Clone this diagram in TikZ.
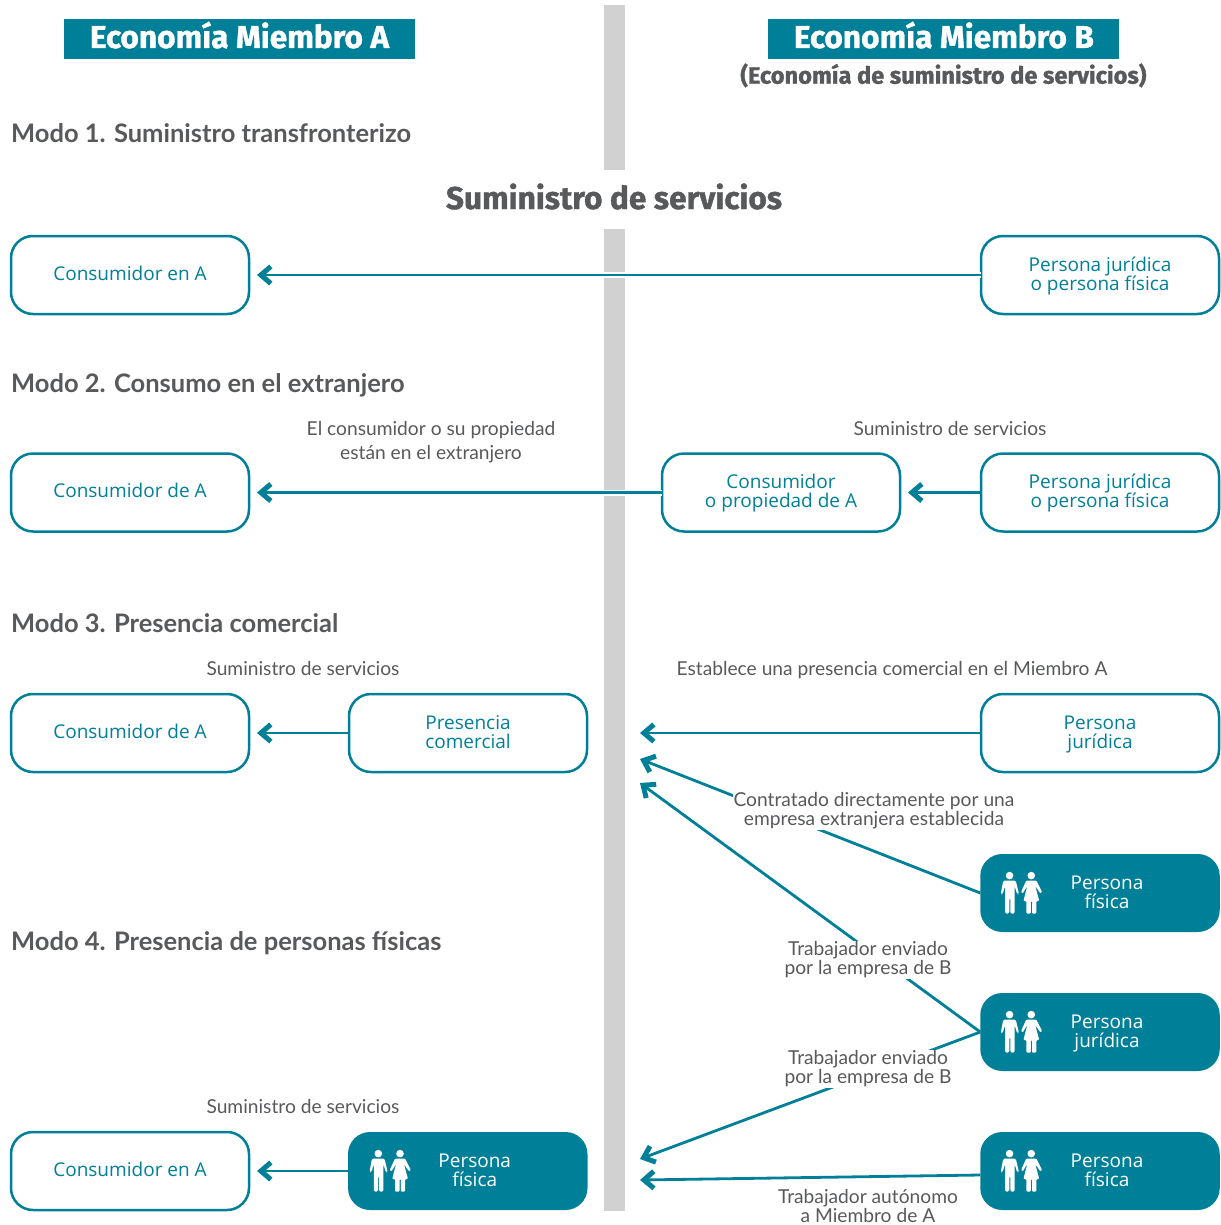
\documentclass[tikz,border=0pt]{standalone}
\usepackage{fontspec}
\usepackage{tikz}
\usetikzlibrary{arrows.meta, positioning}
\setmainfont{Lato}
\newfontfamily\boxfont{Open Sans}
\newfontfamily\headfont{Fira Sans}[BoldFeatures={FakeBold=1.2}]
\definecolor{teal}{RGB}{0,127,153}
\definecolor{ink}{RGB}{88,89,91}
\definecolor{bar}{RGB}{209,209,209}
\tikzset{
  outlinebox/.style={draw=teal, line width=2.5pt, rounded corners=22pt, fill=white, minimum width=238pt,
    minimum height=78pt, inner sep=0pt, outer sep=0pt, align=center, text=teal, text height=14pt, text depth=4pt,
    execute at begin node={\lineskiplimit=-20pt},
    font=\boxfont\fontsize{19}{19}\selectfont},
  twolines/.style={text height=40pt, text depth=10pt},
  solidbox/.style={outlinebox, draw=none, fill=teal, minimum width=239.5pt},
  solidname/.style={text=white, align=center, xshift=7pt, inner sep=0pt,
    execute at begin node={\lineskiplimit=-20pt}, text height=40pt, text depth=10pt,
    font=\boxfont\fontsize{19}{19}\selectfont},
  headbox/.style={fill=teal, text=white, minimum width=351pt, minimum height=40pt, inner sep=0pt, text height=23pt, text depth=5pt,
    font=\headfont\bfseries\fontsize{31.6}{32}\selectfont},
  modetitle/.style={anchor=base west, inner sep=0pt, text=ink, font=\bfseries\fontsize{25.5}{26}\selectfont},
  captext/.style={align=center, inner sep=0pt, text=ink, execute at begin node={\lineskiplimit=-20pt},
    font=\fontsize{19.2}{19}\selectfont},
  wipetext/.style={captext, fill=white, inner sep=1pt},
  linkline/.style={draw=teal, line width=2.8pt, -{Straight Barb[length=10pt, width=17pt, line width=5pt]}},
  halo/.style={preaction={draw=white, line width=6pt, -}},
  couple/.pic={
    \fill[white] (-10.7,3.6) circle (3.8) (11,3.6) circle (3.8);
    % man
    \fill[white, rounded corners=1.5pt] (-17,8.5) -- (-4.5,8.5) -- (-1.3,22) -- (-3,22.5) -- (-5.7,14) -- (-5.7,41.7)
      -- (-10,41.7) -- (-10,26) -- (-11,26) -- (-11,41.7) -- (-15.2,41.7) -- (-15.2,14) -- (-17.8,22.5) -- (-19.5,22) -- cycle;
    % woman
    \fill[white, rounded corners=1pt] (6,8.5) -- (16,8.5) -- (21.8,20) -- (20.2,21.5) -- (15,14) -- (19,29) -- (16,29)
      -- (16,41.7) -- (11.8,41.7) -- (11.8,29) -- (10.5,29) -- (10.5,41.7) -- (6.2,41.7) -- (6.2,29) -- (3.2,29) -- (7,14)
      -- (2.4,21.5) -- (0.8,20) -- cycle;
  },
}
\begin{document}
\begin{tikzpicture}[x=1pt, y=-1pt]
  \useasboundingbox (0,0) rectangle (1220,1225);

  \fill[bar] (604,5) rectangle (625,170);
  \fill[bar] (604,229) rectangle (625,1211);

  \node [headbox] (headA) at (239.5,39) {Economía Miembro A};
  \node [headbox, right=353pt of headA] (headB) {Economía Miembro B};
  \node [text=ink, inner sep=0pt, font=\headfont\bfseries\fontsize{23.6}{24}\selectfont, below=4pt of headB, xshift=-0.5pt] (subB)
    {(Economía de suministro de servicios)};
  \node [text=ink, inner sep=0pt, font=\headfont\bfseries\fontsize{31.6}{32}\selectfont] (title) at (614,196.5) {Suministro de servicios};

  \node [modetitle] (mode1) at (11,143) {Modo 1. Suministro transfronterizo};
  \node [modetitle] (mode2) at (11,392) {Modo 2. Consumo en el extranjero};
  \node [modetitle] (mode3) at (11,632) {Modo 3. Presencia comercial};
  \node [modetitle] (mode4) at (11,950) {Modo 4. Presencia de personas físicas};

  \node [outlinebox] (consA1) at (130,275) {Consumidor en A};
  \node [outlinebox, twolines, right=732pt of consA1] (persB1) {Persona jurídica\\o persona física};

  \node [outlinebox, below=139.5pt of consA1] (consA2) {Consumidor de A};
  \node [outlinebox, twolines, right=732pt of consA2] (persB2) {Persona jurídica\\o persona física};
  \node [outlinebox, twolines, left=81pt of persB2] (consProp) {Consumidor\\o propiedad de A};

  \node [outlinebox, below=162.5pt of consA2] (consA3) {Consumidor de A};
  \node [outlinebox, twolines, right=100pt of consA3] (presA) {Presencia\\comercial};
  \node [outlinebox, twolines, right=732pt of consA3] (persB3) {Persona\\jurídica};

  \node [solidbox, below=82pt of persB3, label={[solidname]center:Persona\\física}] (fisB1) {};
  \node [solidbox, below=61pt of fisB1, label={[solidname]center:Persona\\jurídica}] (jurB) {};
  \node [solidbox, below=61pt of jurB, label={[solidname]center:Persona\\física}] (fisB2) {};

  \node [outlinebox, below=360pt of consA3] (consA4) {Consumidor en A};
  \node [solidbox, right=99pt of consA4, label={[solidname]center:Persona\\física}] (fisA) {};

  \path (fisB1.west) ++(40,-21) pic {couple};
  \path (jurB.west) ++(40,-21) pic {couple};
  \path (fisB2.west) ++(40,-21) pic {couple};
  \path (fisA.west) ++(41,-21) pic {couple};

  \coordinate (end1) at (640,733);
  \coordinate (end2) at (640,759);
  \coordinate (end3) at (640,783);
  \coordinate (end4) at (640,1159);
  \coordinate (end5) at (640,1180);

  \draw [linkline, halo, shorten >=8pt] (persB1.west) -- (consA1.east);
  \draw [linkline, halo, shorten >=8pt] (consProp.west) -- (consA2.east);
  \draw [linkline, shorten >=8pt] (persB2.west) -- (consProp.east);
  \draw [linkline, shorten >=8pt] (presA.west) -- (consA3.east);
  \draw [linkline, shorten >=8pt] (fisA.west) -- (consA4.east);
  \draw [linkline] (persB3.west) -- (end1);
  \draw [linkline] (fisB1.west) -- (end2);
  \draw [linkline] (jurB.west) -- (end3);
  \draw [linkline] (jurB.west) -- (end4);
  \draw [linkline] ([yshift=-4pt]fisB2.west) -- (end5);

  \node [captext] (capProp) at (431,442) {El consumidor o su propiedad\\[5pt]están en el extranjero};
  \node [captext] (capSum1) at (950,429) {Suministro de servicios};
  \node [captext] (capSum2) at (303,668) {Suministro de servicios};
  \node [captext] (capPres) at (892,670) {Establece una presencia comercial en el Miembro A};
  \node [wipetext] (capCont) at (874,811) {Contratado directamente por una\\empresa extranjera establecida};
  \node [wipetext] (capEnv1) at (868,960) {Trabajador enviado\\por la empresa de B};
  \node [wipetext] (capEnv2) at (868,1069) {Trabajador enviado\\por la empresa de B};
  \node [captext] (capAut) at (868,1205.5) {Trabajador autónomo\\a Miembro de A};
  \node [captext] (capSum3) at (303,1106) {Suministro de servicios};
\end{tikzpicture}
\end{document}
